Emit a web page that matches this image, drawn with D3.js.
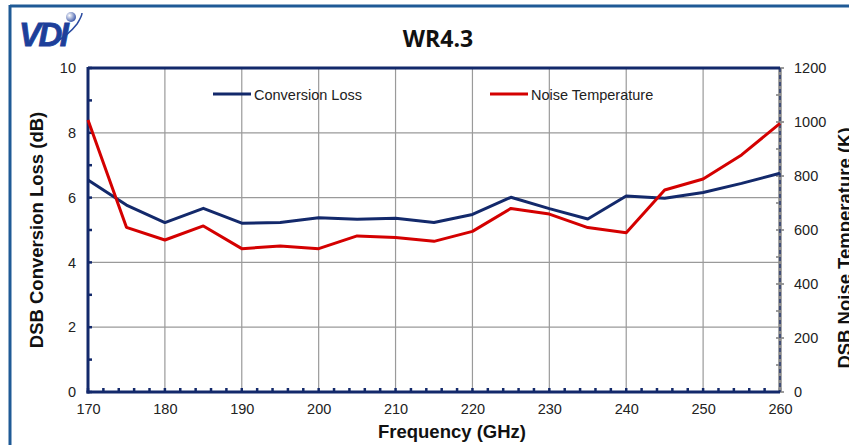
<!DOCTYPE html>
<html><head><meta charset="utf-8">
<script src="https://cdn.jsdelivr.net/npm/d3@7"></script>
<style>
html,body{margin:0;padding:0;background:#fff;}
svg{display:block;}
</style></head>
<body>
<svg id="chart" width="849" height="445"></svg>
<script>
// ---- data ----
const frequencies = [170,175,180,185,190,195,200,205,210,215,220,225,230,235,240,245,250,255,260];
const conversionLoss = [6.54,5.77,5.23,5.67,5.21,5.23,5.38,5.33,5.36,5.23,5.48,6.01,5.66,5.34,6.05,5.98,6.16,6.44,6.75];
const noiseTemperature = [1007,610,563,615,531,541,531,578,572,558,595,680,659,609,590,748,789,878,995];
const xTicks = [170,180,190,200,210,220,230,240,250,260];
const leftTicks = [0,2,4,6,8,10];
const rightTicks = [0,200,400,600,800,1000,1200];
const seriesNames = ["Conversion Loss","Noise Temperature"];
const chartTitle = "WR4.3";

const svg = d3.select("#chart");
const pL = 88, pR = 780, pT = 68, pB = 392;
const navy = "#13296b", red = "#d40000", grid = "#9a9a9a";

const x = d3.scaleLinear().domain([170,260]).range([pL,pR]);
const yL = d3.scaleLinear().domain([0,10]).range([pB,pT]);
const yR = d3.scaleLinear().domain([0,1200]).range([pB,pT]);

// outer frame (slide border)
svg.append("line").attr("x1",10).attr("x2",849).attr("y1",6).attr("y2",6).attr("stroke","#1f5a96").attr("stroke-width",3);
svg.append("line").attr("x1",10).attr("x2",10).attr("y1",5).attr("y2",445).attr("stroke","#1f5a96").attr("stroke-width",3);

// logo
const logo = svg.append("g");
const lg = svg.append("defs").append("radialGradient").attr("id","sph").attr("cx","35%").attr("cy","35%").attr("r","70%");
lg.append("stop").attr("offset","0%").attr("stop-color","#ffffff");
lg.append("stop").attr("offset","100%").attr("stop-color","#3a56a8");
logo.append("path").attr("d","M52,44 Q68,36 77,24 Q82,16 82,13").attr("fill","none").attr("stroke","#2a4aa0").attr("stroke-width",1.5);
logo.append("text").attr("x",19).attr("y",46).attr("font-family","Liberation Sans, Arial, sans-serif")
  .attr("font-weight","bold").attr("font-style","italic").attr("font-size",33).attr("fill","#1d3f9a")
  .attr("letter-spacing",-2.5).attr("stroke","#1d3f9a").attr("stroke-width",0.8).text("VDI");
logo.append("circle").attr("cx",71).attr("cy",17).attr("r",5).attr("fill","url(#sph)");

// title
svg.append("text").attr("x",438).attr("y",47).attr("text-anchor","middle")
  .attr("font-family","Open Sans, sans-serif").attr("font-weight","bold").attr("font-size",23).attr("fill","#111").text(chartTitle);

// gridlines
svg.append("g").selectAll("line").data(xTicks.filter(d=>d>170&&d<260)).join("line")
  .attr("x1",d=>x(d)).attr("x2",d=>x(d)).attr("y1",pT).attr("y2",pB).attr("stroke",grid).attr("stroke-width",1.2);
svg.append("g").selectAll("line").data(leftTicks.filter(d=>d>0&&d<10)).join("line")
  .attr("x1",pL).attr("x2",pR).attr("y1",d=>yL(d)).attr("y2",d=>yL(d)).attr("stroke",grid).attr("stroke-width",1.2);

// axes via d3
const font = "Liberation Sans, Arial, sans-serif";
const gx = svg.append("g").attr("transform",`translate(0,${pB})`)
  .call(d3.axisBottom(x).tickValues(xTicks).tickSize(0).tickPadding(12).tickFormat(d3.format("d")));
const gyl = svg.append("g").attr("transform",`translate(${pL},0)`)
  .call(d3.axisLeft(yL).tickValues(leftTicks).tickSize(0).tickPadding(12).tickFormat(d3.format("d")));
const gyr = svg.append("g").attr("transform",`translate(${pR},0)`)
  .call(d3.axisRight(yR).tickValues(rightTicks).tickSize(0).tickPadding(14).tickFormat(d3.format("d")));
[gx,gyl,gyr].forEach(g=>{
  g.select(".domain").remove();
  g.selectAll("text").attr("font-family",font).attr("font-size",14.5).attr("fill","#222");
});

// minor ticks
svg.append("g").selectAll("line").data(d3.range(170,261,2)).join("line")
  .attr("x1",d=>x(d)).attr("x2",d=>x(d)).attr("y1",pB).attr("y2",pB-4).attr("stroke",navy).attr("stroke-width",2.5);
svg.append("g").selectAll("line").data(d3.range(0,10.01,1)).join("line")
  .attr("x1",pL).attr("x2",pL+4).attr("y1",d=>yL(d)).attr("y2",d=>yL(d)).attr("stroke",navy).attr("stroke-width",2.5);
svg.append("g").selectAll("line").data(d3.range(0,1201,100)).join("line")
  .attr("x1",pR).attr("x2",pR-4).attr("y1",d=>yR(d)).attr("y2",d=>yR(d)).attr("stroke","#7a7a7a").attr("stroke-width",1.5);
svg.append("g").selectAll("line").data(rightTicks).join("line")
  .attr("x1",pR).attr("x2",pR+4).attr("y1",d=>yR(d)).attr("y2",d=>yR(d)).attr("stroke","#7a7a7a").attr("stroke-width",1.5);

// frame lines
svg.append("line").attr("x1",pR).attr("x2",pR).attr("y1",pT).attr("y2",pB).attr("stroke","#8a8a8a").attr("stroke-width",3.5);
svg.append("line").attr("x1",pR).attr("x2",pR).attr("y1",pT).attr("y2",pB).attr("stroke",navy).attr("stroke-width",1.2).attr("stroke-dasharray","4,3");
svg.append("line").attr("x1",pL).attr("x2",pR).attr("y1",pT).attr("y2",pT).attr("stroke",navy).attr("stroke-width",3);
svg.append("line").attr("x1",pL).attr("x2",pL).attr("y1",pT-1).attr("y2",pB+1.5).attr("stroke",navy).attr("stroke-width",3);
svg.append("line").attr("x1",pL-1.5).attr("x2",pR).attr("y1",pB).attr("y2",pB).attr("stroke",navy).attr("stroke-width",3);

// series lines
const lineL = d3.line().x((d,i)=>x(frequencies[i])).y(d=>yL(d));
const lineR = d3.line().x((d,i)=>x(frequencies[i])).y(d=>yR(d));
svg.append("path").datum(conversionLoss).attr("d",lineL).attr("fill","none").attr("stroke",navy).attr("stroke-width",3).attr("stroke-linejoin","round");
svg.append("path").datum(noiseTemperature).attr("d",lineR).attr("fill","none").attr("stroke",red).attr("stroke-width",3).attr("stroke-linejoin","round");

// legend
const legend = [{name:seriesNames[0],color:navy,x:213},{name:seriesNames[1],color:red,x:490}];
const lgG = svg.append("g").selectAll("g").data(legend).join("g").attr("transform",d=>`translate(${d.x},94)`);
lgG.append("line").attr("x1",0).attr("x2",38).attr("stroke",d=>d.color).attr("stroke-width",3);
lgG.append("text").attr("x",41).attr("y",5.5).attr("font-family",font).attr("font-size",14.5).attr("fill","#222").text(d=>d.name);

// axis titles
svg.append("text").attr("x",452).attr("y",438).attr("text-anchor","middle").attr("font-family",font)
  .attr("font-weight","bold").attr("font-size",18.5).attr("fill","#111").text("Frequency (GHz)");
svg.append("text").attr("transform","translate(43,230) rotate(-90)").attr("text-anchor","middle").attr("font-family",font)
  .attr("font-weight","bold").attr("font-size",18.5).attr("fill","#111").text("DSB Conversion Loss (dB)");
svg.append("text").attr("transform","translate(851,248) rotate(-90)").attr("text-anchor","middle").attr("font-family",font)
  .attr("font-weight","bold").attr("font-size",18.5).attr("fill","#111").text("DSB Noise Temperature (K)");
</script>
</body></html>
